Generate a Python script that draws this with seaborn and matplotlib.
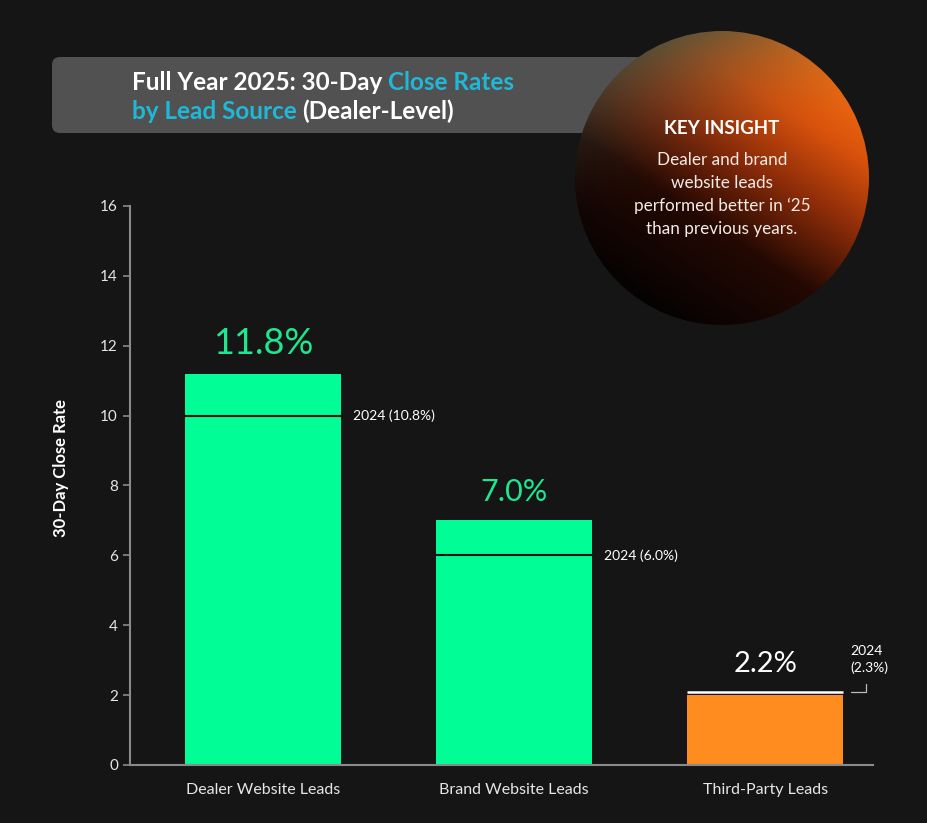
import numpy as np
import pandas as pd
import matplotlib.pyplot as plt
import seaborn as sns
from matplotlib.patches import FancyBboxPatch, Circle
from matplotlib.colors import LinearSegmentedColormap

categories = ["Dealer Website Leads", "Brand Website Leads", "Third-Party Leads"]
close_2025 = [11.2, 7.0, 2.0]      # bar heights as drawn
close_2024 = [10.0, 6.0, 2.1]      # 2024 marker lines as drawn
labels_2025 = ["11.8%", "7.0%", "2.2%"]
labels_2024 = ["2024 (10.8%)", "2024 (6.0%)", "2024\n(2.3%)"]
bar_colors = ["#00fd96", "#00fd96", "#ff8c1e"]
label_colors = ["#1de88f", "#1de88f", "#ffffff"]
label_sizes = [26, 22, 21]
line_colors = ["#111111", "#111111", "#ffffff"]
yticks = [0, 2, 4, 6, 8, 10, 12, 14, 16]
insight_lines = ["Dealer and brand", "website leads", "performed better in \u201825", "than previous years."]

sns.set_style("ticks")
plt.rcParams["font.family"] = ["Lato", "DejaVu Sans"]

fig = plt.figure(figsize=(9.27, 8.23), dpi=100, facecolor="#151515")
ax = fig.add_axes([0.140, 0.0705, 0.802, 0.6792])
ax.set_facecolor("none")

df = pd.DataFrame({"source": categories, "rate": close_2025})
sns.barplot(data=df, x="source", y="rate", hue="source", palette=bar_colors,
            width=0.62, saturation=1, legend=False, edgecolor="none", linewidth=0, ax=ax)

ax.set_ylim(0, 16)
ax.set_xlim(-0.53, 2.43)
ax.set_yticks(yticks)
ax.set_xlabel("")
ax.set_ylabel("30-Day Close Rate", color="white", fontsize=12, fontweight="bold")
ax.yaxis.set_label_coords(-0.082, 0.531)
ax.tick_params(axis="y", colors="#8a8a8a", labelcolor="#e6e6e6", labelsize=11, length=5, width=1.2)
ax.tick_params(axis="x", length=0, labelcolor="#e6e6e6", labelsize=11.5, pad=13)
for s in ["top", "right"]:
    ax.spines[s].set_visible(False)
for s in ["left", "bottom"]:
    ax.spines[s].set_color("#8a8a8a")
    ax.spines[s].set_linewidth(1.5)

for i, p in enumerate(ax.patches[:len(categories)]):
    x0, w = p.get_x(), p.get_width()
    cx = x0 + w / 2
    ax.hlines(close_2024[i], x0, x0 + w, color=line_colors[i], lw=1.8 if i == 2 else 1.5, zorder=4)
    top = max(close_2025[i], close_2024[i])
    ax.annotate(labels_2025[i], xy=(cx, top), xytext=(0, 14), textcoords="offset points",
                ha="center", va="baseline", fontsize=label_sizes[i], color=label_colors[i])
    if i < 2:
        ax.text(x0 + w + 0.05, close_2024[i], labels_2024[i], ha="left", va="center",
                fontsize=10, color="white")
    else:
        xa, xb = x0 + w + 0.03, x0 + w + 0.09
        ax.plot([xa, xb, xb], [close_2024[i], close_2024[i], close_2024[i] + 0.22],
                color="#bbbbbb", lw=0.9)
        ax.text(xa, close_2024[i] + 0.5, labels_2024[i], ha="left", va="bottom",
                fontsize=10, color="white", linespacing=1.45)

# overlay: title box and insight circle (pixel coordinates)
ov = fig.add_axes([0, 0, 1, 1], zorder=5)
ov.patch.set_alpha(0)
ov.axis("off")
ov.set_xlim(0, 927)
ov.set_ylim(823, 0)

ov.add_patch(FancyBboxPatch((52, 57), 640, 76, boxstyle="round,pad=0,rounding_size=8",
                            fc="#515151", ec="none"))

r = fig.canvas.get_renderer()
cyan = "#1fb8d6"
tstyle = dict(fontsize=17.5, fontweight="bold", va="baseline", ha="left")


def width_of(s):
    t = ov.text(0, 0, s, **tstyle)
    w = t.get_window_extent(r).width
    t.remove()
    return w


space = width_of("a a") - width_of("aa")
for y, parts in [(90, [("Full Year 2025: 30-Day", "white"), ("Close Rates", cyan)]),
                 (119, [("by Lead Source", cyan), ("(Dealer-Level)", "white")])]:
    x = 132
    for txt, col in parts:
        ov.text(x, y, txt, color=col, **tstyle)
        x += width_of(txt) + space

# gradient circle
ccx, ccy, rad = 722, 178, 147
n = 400
u, v = np.meshgrid(np.linspace(-1, 1, n), np.linspace(1, -1, n))
s = 0.55 * u + 0.83 * v
t = np.clip((s + 1) / 2, 0, 1)
cmap = LinearSegmentedColormap.from_list(
    "warm", [(0, "#050202"), (0.35, "#240903"), (0.6, "#8c2c09"), (0.82, "#d9520c"), (1, "#f06c12")])
rgb = cmap(t)[..., :3]
teal = np.array([0.18, 0.32, 0.28])
tw = (np.clip(0.9 * v - 0.35 * u, 0, 1) ** 2 * 0.75)[..., None]
rgb = rgb * (1 - tw) + teal * tw
im = ov.imshow(rgb, extent=(ccx - rad, ccx + rad, ccy + rad, ccy - rad), aspect="auto", zorder=2)
clip = Circle((ccx, ccy), rad, transform=ov.transData)
im.set_clip_path(clip)
ov.set_xlim(0, 927)
ov.set_ylim(823, 0)

ov.text(ccx, 128, "KEY INSIGHT", ha="center", va="center", color="white",
        fontsize=13.5, fontweight="bold", zorder=3)
for k, line in enumerate(insight_lines):
    ov.text(ccx, 160 + 23 * k, line, ha="center", va="center", color="#f2ebe7",
            fontsize=12.3, zorder=3)

fig.savefig("out.png", dpi=100, facecolor=fig.get_facecolor())
